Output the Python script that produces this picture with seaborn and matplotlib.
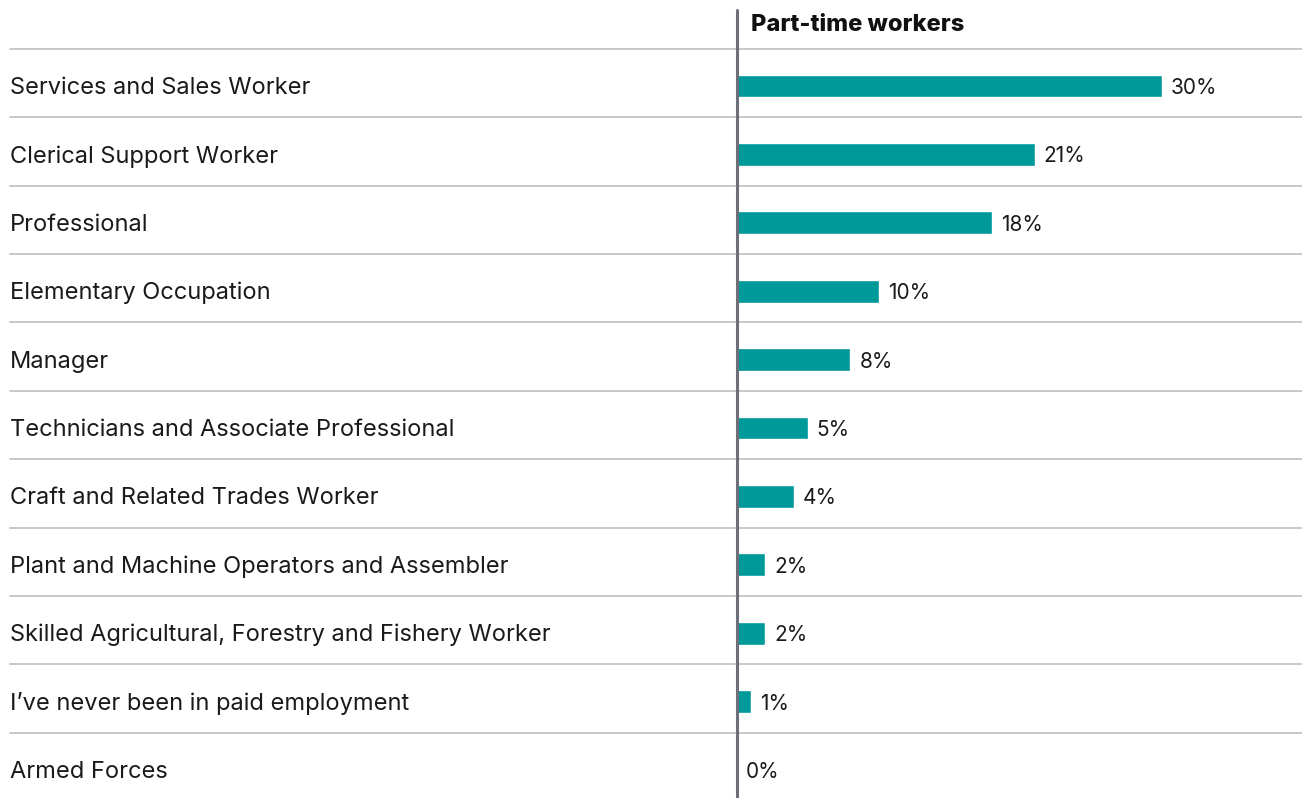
import matplotlib
matplotlib.use("Agg")
import matplotlib.pyplot as plt
import matplotlib.transforms as mtransforms
import seaborn as sns
import pandas as pd

occupations = [
    "Services and Sales Worker",
    "Clerical Support Worker",
    "Professional",
    "Elementary Occupation",
    "Manager",
    "Technicians and Associate Professional",
    "Craft and Related Trades Worker",
    "Plant and Machine Operators and Assembler",
    "Skilled Agricultural, Forestry and Fishery Worker",
    "I\u2019ve never been in paid employment",
    "Armed Forces",
]
part_time_pct = [30, 21, 18, 10, 8, 5, 4, 2, 2, 1, 0]
column_title = "Part-time workers"

df = pd.DataFrame({"occupation": occupations, "pct": part_time_pct})

sns.set_theme(style="white")
plt.rcParams["font.family"] = ["Inter", "DejaVu Sans"]

W, H = 1302, 798
fig = plt.figure(figsize=(W / 100, H / 100), dpi=100)
ax = fig.add_axes([0, 0, 1, 1])

TEAL = "#00999A"
sns.barplot(data=df, x="pct", y="occupation", orient="h", color=TEAL,
            width=0.335, saturation=1, ax=ax, order=occupations)

# axis geometry: value axis starts at the divider, rows are evenly stacked
x0_px, px_per_unit = 737, 425 / 30
row0_px, row_px = 86, 68.4
ax.set_xlim(-x0_px / px_per_unit, (W - x0_px) / px_per_unit)
ax.set_ylim((H - row0_px) / row_px, -row0_px / row_px)
ax.set_axis_off()

# value labels just right of each bar end
for patch, v in zip(ax.patches, part_time_pct):
    yc = patch.get_y() + patch.get_height() / 2
    ax.annotate(f"{v}%", xy=(patch.get_width(), yc), xytext=(6.5, -1.5),
                textcoords="offset points", ha="left", va="center",
                fontsize=15, color="#1a1a1a")

# row separators (sit slightly above the midpoint between rows)
left_frac = 10 / W
sep_offset = 37.3 / row_px
for i in range(len(occupations)):
    ax.axhline(i - sep_offset, xmin=left_frac, xmax=1, color="#c4c4c4",
               lw=1.3, zorder=0)

# vertical divider
ax.axvline(0, ymin=0, ymax=1 - 10 / H, color="#6e6e78", lw=2.2, zorder=3)

# category labels at the left edge
trans = mtransforms.blended_transform_factory(ax.transAxes, ax.transData)
for i, name in enumerate(occupations):
    ax.text(left_frac, i + 2 / row_px, name, transform=trans, ha="left",
            va="center", fontsize=17, color="#1a1a1a")

# column header
ax.text(14 / px_per_unit, (25 - row0_px) / row_px, column_title, ha="left",
        va="center", fontsize=17, fontweight="heavy", color="#111111")

fig.savefig("out.png", dpi=100)
